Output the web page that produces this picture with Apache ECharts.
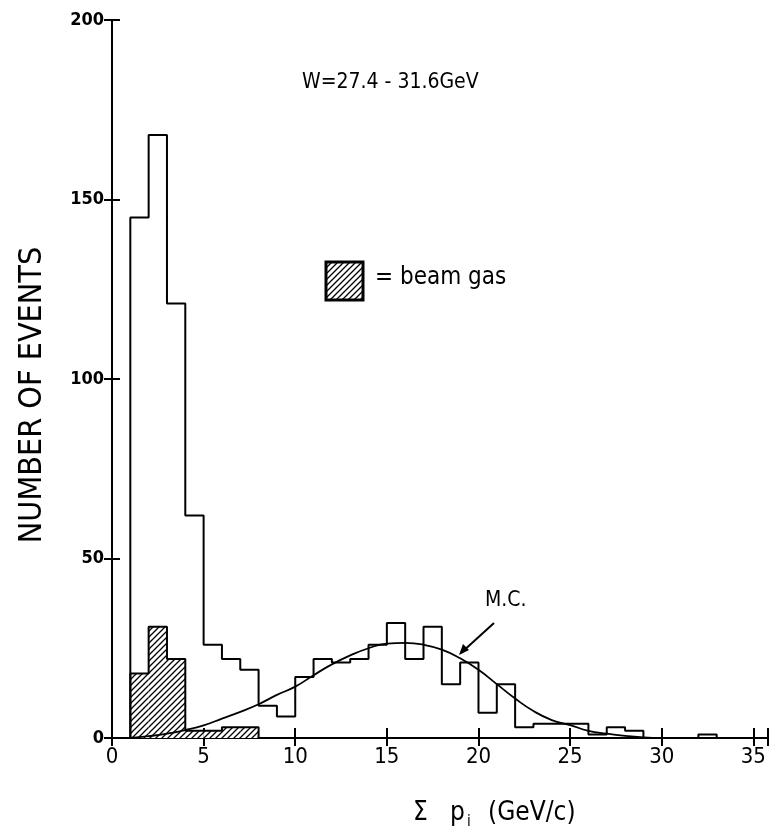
<!DOCTYPE html>
<html><head><meta charset="utf-8">
<script src="https://cdn.jsdelivr.net/npm/echarts@6/dist/echarts.min.js"></script>
<style>html,body{margin:0;padding:0;background:#fff}#c{width:771px;height:840px}</style>
</head><body><div id="c"></div>
<script>
// ---- data ----
const mainBinLeft = [1,2,3,4,5,6,7,8,9,10,11,12,13,14,15,16,17,18,19,20,21,22,23,24,25,26,27,28,29,30,31,32,33];
const mainCounts  = [145,168,121,62,26,22,19,9,6,17,22,21,22,26,32,22,31,15,21,7,15,3,4,4,4,1,3,2,0,0,0,1,0];
const beamBinLeft = [1,2,3,4,5,6,7];
const beamCounts  = [18,31,22,2,2,3,3];
const mcX = [1,2,3,4,5,6,7,8,9,10,11,12,13,14,15,16,17,18,19,20,21,22,23,24,25,26,27,28,29,30];
const mcY = [0,0.5,1.2,2.2,3.5,5.4,7.3,9.4,12,14.3,17.5,20.5,23,25,26.3,26.5,26,24.6,22.2,19,15,11,7.5,5,3.6,2,1.2,0.6,0.2,0];
const xTickValues = [0,5,10,15,20,25,30,35];
const yTickValues = [0,50,100,150,200];
const binWidth = 1;

// hatch pattern
function hatch(){
  const c = document.createElement('canvas'); c.width = 6; c.height = 6;
  const g = c.getContext('2d');
  g.fillStyle = '#fff'; g.fillRect(0,0,6,6);
  g.strokeStyle = '#000'; g.lineWidth = 1.3;
  g.beginPath();
  g.moveTo(-1,7); g.lineTo(7,-1);
  g.moveTo(-1,1); g.lineTo(1,-1);
  g.moveTo(5,7); g.lineTo(7,5);
  g.stroke();
  return c;
}
const pat = {image: hatch(), repeat: 'repeat'};

function stepData(lefts, counts){
  const d = [[lefts[0], 0]];
  for (let i=0;i<lefts.length;i++) d.push([lefts[i], counts[i]]);
  d.push([lefts[lefts.length-1]+binWidth, 0]);
  return d;
}

const font = "'DejaVu Sans Condensed','DejaVu Sans',sans-serif";
const chart = echarts.init(document.getElementById('c'), null, {renderer:'canvas'});
const axisCommon = {
  type:'value', splitLine:{show:false},
  axisLine:{lineStyle:{color:'#000', width:2}},
  axisTick:{inside:true, lineStyle:{color:'#000', width:2}}
};
chart.setOption({
  backgroundColor:'#fff',
  animation:false,
  grid:{left:112, right:3, top:20, bottom:102, containLabel:false},
  xAxis:[
    Object.assign({}, axisCommon, {position:'bottom', min:0, max:35.8, interval:5,
      axisTick:{inside:true, length:10, lineStyle:{color:'#000', width:2}},
      axisLabel:{fontSize:22, color:'#000', fontFamily:font, margin:8,
        formatter: v => xTickValues.indexOf(v) >= 0 ? String(v) : ''}}),
    Object.assign({}, axisCommon, {position:'top', min:0, max:35.8, interval:5,
      axisTick:{inside:true, length:8, lineStyle:{color:'#000', width:2}},
      axisLabel:{show:false}})
  ],
  yAxis:[
    Object.assign({}, axisCommon, {position:'left', min:0, max:200, interval:50,
      axisTick:{inside:true, length:8, lineStyle:{color:'#000', width:2}},
      axisLabel:{fontSize:18, color:'#000', fontFamily:font, margin:8, fontWeight:'bold',
        formatter: v => yTickValues.indexOf(v) >= 0 ? String(v) : ''}}),
    Object.assign({}, axisCommon, {position:'right', min:0, max:200, interval:50,
      axisTick:{inside:true, length:8, lineStyle:{color:'#000', width:2}},
      axisLabel:{show:false}})
  ],
  series:[
    {
      type:'custom', xAxisIndex:0, yAxisIndex:0, silent:true,
      data: beamBinLeft.map((l,i)=>[l, l+binWidth, beamCounts[i]]),
      renderItem:(params, api)=>{
        const p0 = api.coord([api.value(0), api.value(2)]);
        const p1 = api.coord([api.value(1), 0]);
        return {type:'rect', shape:{x:p0[0], y:p0[1], width:p1[0]-p0[0], height:p1[1]-p0[1]},
          style:{fill:pat, stroke:null}};
      }, z:1
    },
    {type:'line', step:'end', data:stepData(beamBinLeft, beamCounts), symbol:'none',
      lineStyle:{color:'#000', width:2}, z:2},
    {type:'line', step:'end', data:stepData(mainBinLeft, mainCounts), symbol:'none',
      lineStyle:{color:'#000', width:2}, z:3},
    {type:'line', smooth:true, data:mcX.map((x,i)=>[x, mcY[i]]), symbol:'none',
      lineStyle:{color:'#000', width:1.8}, z:4}
  ],
  graphic:[
    {type:'text', left:302, top:72, style:{text:'W=27.4 - 31.6GeV', font:"21px "+font, fill:'#000'}},
    {type:'rect', shape:{x:326, y:262, width:37, height:38}, style:{fill:pat, stroke:'#000', lineWidth:3}},
    {type:'text', left:375, top:266, style:{text:'= beam gas', font:"24px "+font, fill:'#000'}},
    {type:'text', left:485, top:590, style:{text:'M.C.', font:"21px "+font, fill:'#000'}},
    {type:'line', shape:{x1:494, y1:623, x2:461, y2:653}, style:{stroke:'#000', lineWidth:2}},
    {type:'polygon', shape:{points:[[459,655],[463,644],[469,650]]}, style:{fill:'#000'}},
    {type:'text', x:33, y:395, rotation:Math.PI/2,
      style:{text:'NUMBER OF EVENTS', font:"32px "+font, fill:'#000', align:'center', verticalAlign:'middle'}},
    {type:'text', left:413, top:800, style:{text:'Σ', font:"26px "+font, fill:'#000'}},
    {type:'text', left:450, top:800, style:{text:'p', font:"26px "+font, fill:'#000'}},
    {type:'text', left:467, top:815, style:{text:'i', font:"15px "+font, fill:'#000'}},
    {type:'text', left:488, top:800, style:{text:'(GeV/c)', font:"26px "+font, fill:'#000'}}
  ]
});
</script></body></html>
